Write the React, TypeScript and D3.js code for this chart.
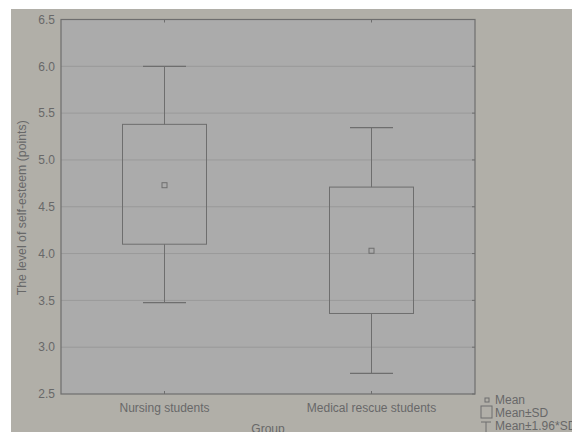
import React from 'react'
import * as d3 from 'd3'

const groups = ['Nursing students', 'Medical rescue students']
const means = [4.73, 4.03]
const sdLow = [4.10, 3.36]
const sdHigh = [5.38, 4.71]
const ciLow = [3.475, 2.72]
const ciHigh = [6.0, 5.345]
const yTicks = [2.5, 3.0, 3.5, 4.0, 4.5, 5.0, 5.5, 6.0, 6.5]

const W = 572
const H = 432
const margin = { top: 19.5, right: 97, bottom: 38, left: 61 }
const line = '#6e6e6e'
const txt = '#686868'
const font = 'Liberation Sans, Arial, sans-serif'

export default function App() {
  const x = d3.scalePoint<string>()
    .domain(groups)
    .range([margin.left, W - margin.right])
    .padding(0.5)

  const y = d3.scaleLinear()
    .domain([2.5, 6.5])
    .range([H - margin.bottom, margin.top])

  const boxW = 84
  const capW = 43
  const left = margin.left
  const right = W - margin.right
  const top = margin.top
  const bottom = H - margin.bottom

  return (
    <svg width={W} height={H} style={{ position: 'fixed', left: 0, top: 0 }}>
      <rect x={0} y={0} width={W} height={H} fill="#ffffff" />
      <rect x={11} y={9} width={W - 11} height={H - 9} fill="#b1afa8" />
      <rect x={left} y={top} width={right - left} height={bottom - top} fill="#ababab" />

      {yTicks.map(t => (
        <g key={t}>
          {t > 2.5 && t < 6.5 && (
            <line x1={left} x2={right} y1={y(t)} y2={y(t)} stroke="#999999" strokeWidth={1} />
          )}
          <line x1={right - 3} x2={right} y1={y(t)} y2={y(t)} stroke={line} />
          <text x={55} y={y(t)} dy="0.35em" textAnchor="end" fontSize={12}
            fontFamily={font} fill={txt}>{t.toFixed(1)}</text>
        </g>
      ))}

      {groups.map((g, i) => {
        const cx = x(g) as number
        return (
          <g key={g}>
            <line x1={cx} x2={cx} y1={bottom} y2={bottom - 3} stroke={line} />
            <line x1={cx} x2={cx} y1={top} y2={top + 3} stroke={line} />
            <line x1={cx} x2={cx} y1={y(ciHigh[i])} y2={y(sdHigh[i])} stroke={line} />
            <line x1={cx} x2={cx} y1={y(sdLow[i])} y2={y(ciLow[i])} stroke={line} />
            <line x1={cx - capW / 2} x2={cx + capW / 2} y1={y(ciHigh[i])} y2={y(ciHigh[i])}
              stroke={line} strokeWidth={1.3} />
            <line x1={cx - capW / 2} x2={cx + capW / 2} y1={y(ciLow[i])} y2={y(ciLow[i])}
              stroke={line} strokeWidth={1.3} />
            <rect x={cx - boxW / 2} y={y(sdHigh[i])} width={boxW}
              height={y(sdLow[i]) - y(sdHigh[i])} fill="none" stroke={line} />
            <rect x={cx - 2.5} y={y(means[i]) - 2.5} width={5} height={5}
              fill="none" stroke={line} />
            <text x={cx} y={bottom + 18} textAnchor="middle" fontSize={12}
              fontFamily={font} fill={txt}>{g}</text>
          </g>
        )
      })}

      <rect x={left} y={top} width={right - left} height={bottom - top} fill="none"
        stroke={line} strokeWidth={1.2} />

      <text x={(left + right) / 2} y={H + 1} textAnchor="middle" fontSize={12}
        fontFamily={font} fill={txt}>Group</text>
      <text transform={`translate(26,${(top + bottom) / 2 + 1}) rotate(-90)`}
        textAnchor="middle" fontSize={12.3} fontFamily={font} fill={txt}>
        The level of self-esteem (points)
      </text>

      <g fontFamily={font} fontSize={12} fill={txt}>
        <rect x={485} y={398} width={4} height={4} fill="none" stroke={line} />
        <text x={495} y={404}>Mean</text>
        <rect x={481} y={406} width={11} height={12} fill="none" stroke={line} />
        <text x={495} y={417}>Mean±SD</text>
        <line x1={481} x2={491} y1={422} y2={422} stroke={line} />
        <line x1={486} x2={486} y1={422} y2={432} stroke={line} />
        <text x={495} y={430}>Mean±1.96*SD</text>
      </g>
    </svg>
  )
}
